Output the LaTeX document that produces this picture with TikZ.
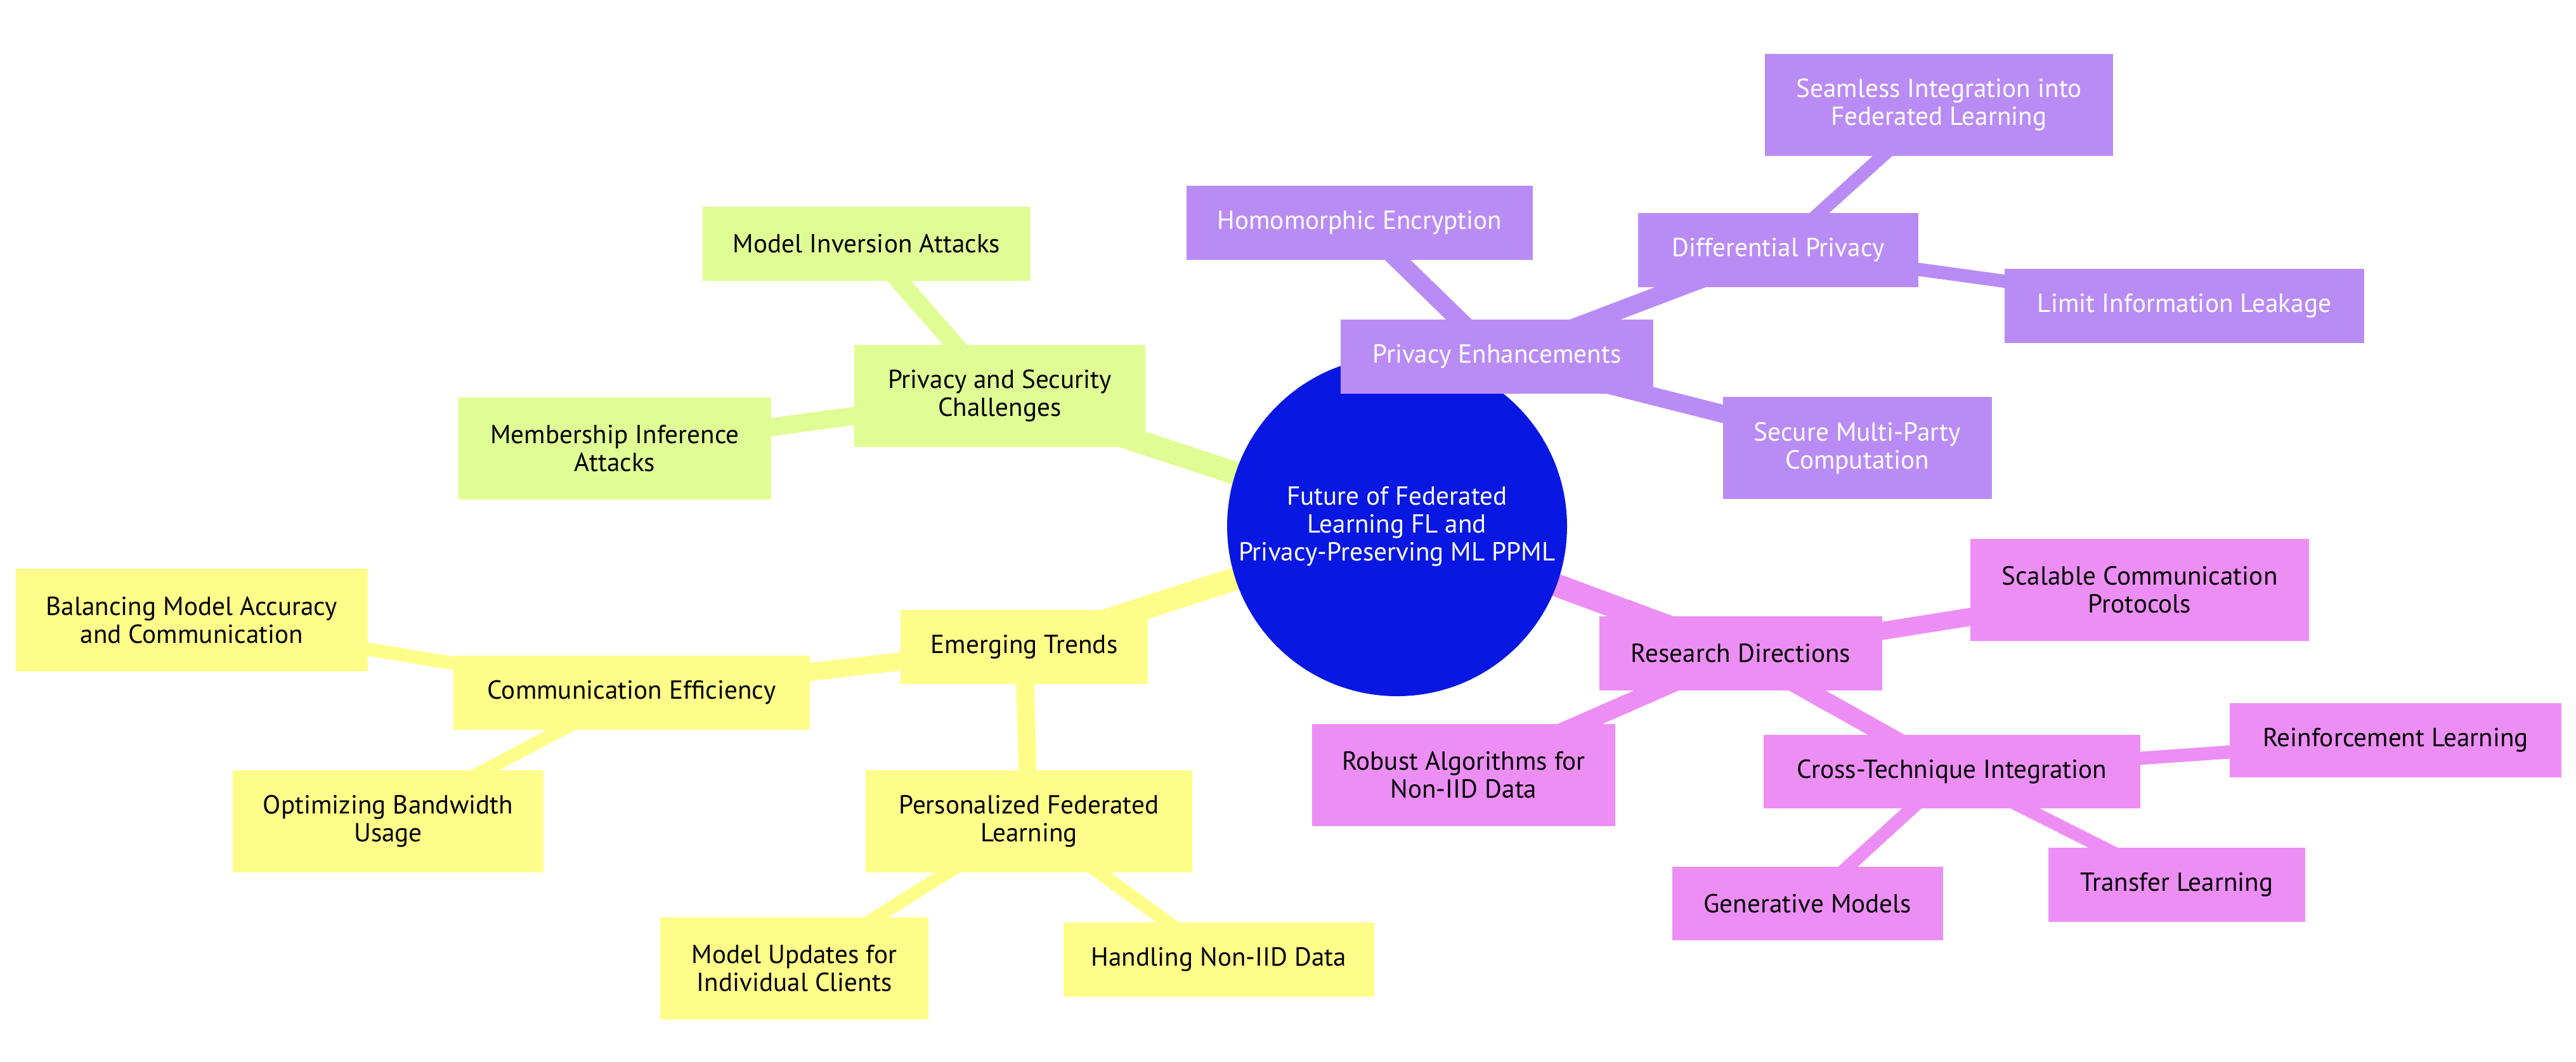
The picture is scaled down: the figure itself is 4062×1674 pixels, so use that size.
\documentclass[tikz,border=0pt]{standalone}
\usepackage{fontspec}
\setmainfont{PT Sans}
\usepackage{xcolor}
\usetikzlibrary{backgrounds}

\definecolor{rootblue}{RGB}{8,24,226}
\definecolor{secgreen}{RGB}{224,252,148}
\definecolor{secyellow}{RGB}{255,253,137}
\definecolor{secpurple}{RGB}{185,140,245}
\definecolor{secpink}{RGB}{237,142,245}

\tikzset{
  mmnode/.style={rectangle,inner sep=0pt,align=center,font=\fontsize{10.3pt}{11pt}\selectfont},
  sz/.style 2 args={minimum width=#1*0.25pt,minimum height=#2*0.25pt},
  grn/.style={mmnode,fill=secgreen,text=black},
  yel/.style={mmnode,fill=secyellow,text=black},
  pur/.style={mmnode,fill=secpurple,text=white},
  pnk/.style={mmnode,fill=secpink,text=black},
  eone/.style={line width=9pt},
  etwo/.style={line width=7.1pt},
  ethree/.style={line width=5.2pt}
}

\begin{document}
\begin{tikzpicture}[x=0.25pt,y=-0.25pt]
\useasboundingbox (0,0) rectangle (4062,1674);
\node[circle,fill=rootblue,text=white,inner sep=0pt,minimum size=134pt,align=center,font=\fontsize{10.3pt}{11pt}\selectfont] (root) at (2203,830) {Future of Federated\\Learning FL and\\Privacy-Preserving ML PPML};
\node[grn,sz={459}{161}] (psc) at (1576.5,624.5) {Privacy and Security\\Challenges};
\node[grn,sz={517}{117}] (mia) at (1366.5,384.5) {Model Inversion Attacks};
\node[grn,sz={493}{161}] (mem) at (969.5,707.5) {Membership Inference\\Attacks};
\node[yel,sz={390}{117}] (et) at (1615,1020.5) {Emerging Trends};
\node[yel,sz={562}{117}] (ce) at (996,1092.5) {Communication Efficiency};
\node[yel,sz={555}{162}] (bal) at (302.5,978) {Balancing Model Accuracy\\and Communication};
\node[yel,sz={490}{161}] (obw) at (612,1295.5) {Optimizing Bandwidth\\Usage};
\node[yel,sz={515}{161}] (pfl) at (1622.5,1295.5) {Personalized Federated\\Learning};
\node[yel,sz={423}{161}] (mu) at (1252.5,1527.5) {Model Updates for\\Individual Clients};
\node[yel,sz={490}{117}] (hn) at (1922,1513.5) {Handling Non-IID Data};
\node[pur,sz={493}{117}] (pe) at (2360.5,562.5) {Privacy Enhancements};
\node[pur,sz={546}{117}] (he) at (2144,351.5) {Homomorphic Encryption};
\node[pur,sz={442}{117}] (dp) at (2804,394.5) {Differential Privacy};
\node[pur,sz={549}{161}] (sif) at (3057.5,165.5) {Seamless Integration into\\Federated Learning};
\node[pur,sz={567}{117}] (lil) at (3444.5,482.5) {Limit Information Leakage};
\node[pur,sz={424}{161}] (smpc) at (2929,706.5) {Secure Multi-Party\\Computation};
\node[pnk,sz={446}{117}] (rd) at (2745,1030.5) {Research Directions};
\node[pnk,sz={534}{161}] (scp) at (3374,930.5) {Scalable Communication\\Protocols};
\node[pnk,sz={478}{161}] (rob) at (2308,1222.5) {Robust Algorithms for\\Non-IID Data};
\node[pnk,sz={594}{116}] (cti) at (3078,1217) {Cross-Technique Integration};
\node[pnk,sz={523}{117}] (rl) at (3777.5,1167.5) {Reinforcement Learning};
\node[pnk,sz={427}{116}] (gm) at (2850.5,1425) {Generative Models};
\node[pnk,sz={405}{117}] (tl) at (3432.5,1395.5) {Transfer Learning};
\begin{pgfonlayer}{background}
\draw[eone,secgreen] (root.center) -- (psc.center);
\draw[etwo,secgreen] (psc.center) -- (mia.center);
\draw[etwo,secgreen] (psc.center) -- (mem.center);
\draw[eone,secyellow] (root.center) -- (et.center);
\draw[etwo,secyellow] (et.center) -- (ce.center);
\draw[etwo,secyellow] (et.center) -- (pfl.center);
\draw[ethree,secyellow] (ce.center) -- (bal.center);
\draw[ethree,secyellow] (ce.center) -- (obw.center);
\draw[ethree,secyellow] (pfl.center) -- (mu.center);
\draw[ethree,secyellow] (pfl.center) -- (hn.center);
\draw[eone,secpurple] (root.center) -- (pe.center);
\draw[etwo,secpurple] (pe.center) -- (he.center);
\draw[etwo,secpurple] (pe.center) -- (dp.center);
\draw[etwo,secpurple] (pe.center) -- (smpc.center);
\draw[ethree,secpurple] (dp.center) -- (sif.center);
\draw[ethree,secpurple] (dp.center) -- (lil.center);
\draw[eone,secpink] (root.center) -- (rd.center);
\draw[etwo,secpink] (rd.center) -- (scp.center);
\draw[etwo,secpink] (rd.center) -- (rob.center);
\draw[etwo,secpink] (rd.center) -- (cti.center);
\draw[ethree,secpink] (cti.center) -- (rl.center);
\draw[ethree,secpink] (cti.center) -- (gm.center);
\draw[ethree,secpink] (cti.center) -- (tl.center);
\end{pgfonlayer}
\end{tikzpicture}
\end{document}
